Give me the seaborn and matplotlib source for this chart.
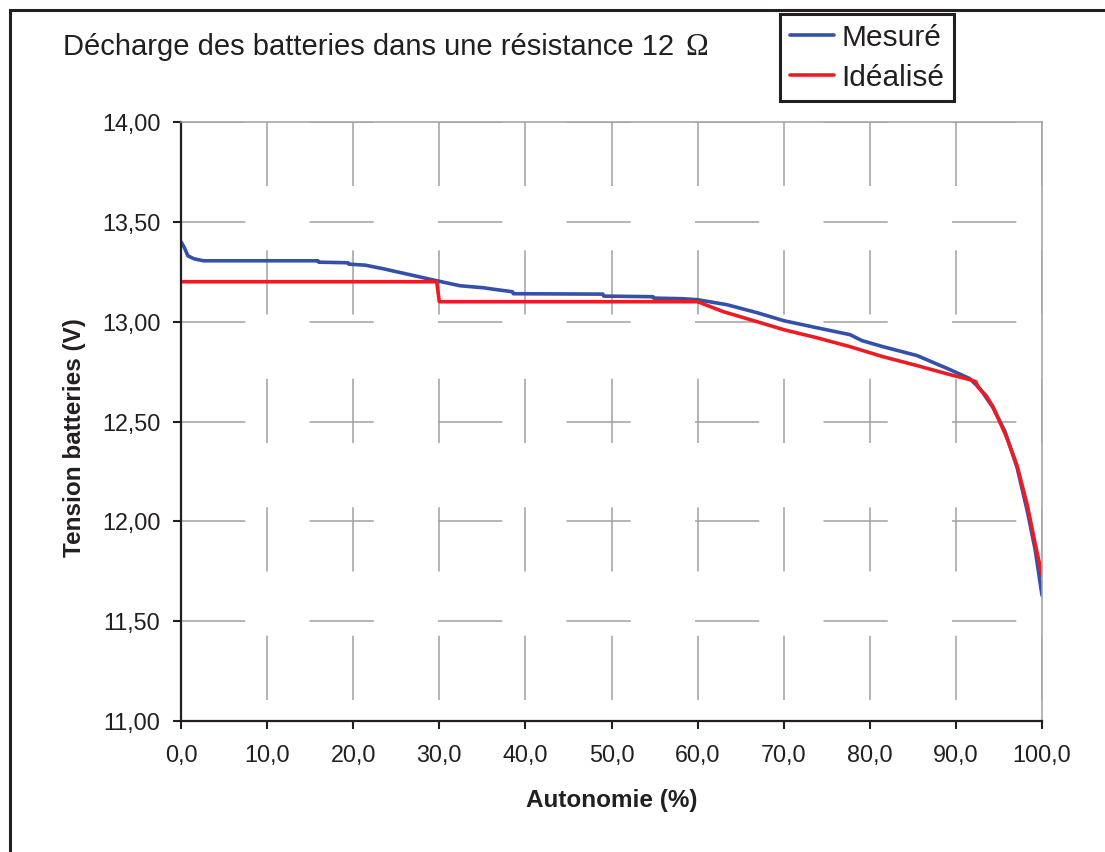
import matplotlib
matplotlib.use("Agg")
import matplotlib.pyplot as plt
import pandas as pd
import seaborn as sns
from matplotlib.patches import Rectangle
from matplotlib.lines import Line2D

# ---- data ----
autonomie_mesure = [0, 0.4, 0.8, 1.5, 2.6, 10, 15.9, 16.0, 19.4, 19.5, 21.4, 23.5, 26.6,
                    29.7, 32.4, 35.1, 36.7, 38.5, 38.6, 49.0, 49.1, 54.8, 54.9, 58.2, 60.0,
                    63.4, 66.9, 70.0, 73.8, 77.7, 79.1, 81.5, 85.5, 89.3, 91.6, 92.8, 94.3,
                    95.7, 97.1, 98.3, 99.2, 100.0]
tension_mesure = [13.40, 13.37, 13.33, 13.315, 13.305, 13.305, 13.305, 13.298, 13.295, 13.288,
                  13.283, 13.265, 13.235, 13.205, 13.18, 13.17, 13.16, 13.15, 13.14, 13.138,
                  13.128, 13.125, 13.118, 13.115, 13.11, 13.085, 13.045, 13.005, 12.97, 12.935,
                  12.905, 12.875, 12.83, 12.76, 12.715, 12.665, 12.57, 12.45, 12.27, 12.05,
                  11.86, 11.63]

autonomie_ideal = [0, 29.7, 30.0, 60.0, 63.0, 66.9, 70.0, 73.8, 77.7, 81.5, 85.5, 89.3, 91.6,
                   92.3, 92.6, 93.5, 94.3, 95.9, 97.1, 98.3, 99.2, 100.0]
tension_ideal = [13.20, 13.20, 13.10, 13.10, 13.05, 13.00, 12.96, 12.92, 12.875, 12.825, 12.78,
                 12.735, 12.71, 12.70, 12.67, 12.63, 12.575, 12.42, 12.28, 12.08, 11.89, 11.73]

series_names = ["Mesuré", "Idéalisé"]
series_colors = ["#3450A8", "#EC1C24"]

x_ticks = [0, 10, 20, 30, 40, 50, 60, 70, 80, 90, 100]
x_tick_labels = ["0,0", "10,0", "20,0", "30,0", "40,0", "50,0", "60,0", "70,0", "80,0", "90,0", "100,0"]
y_ticks = [11.0, 11.5, 12.0, 12.5, 13.0, 13.5, 14.0]
y_tick_labels = ["11,00", "11,50", "12,00", "12,50", "13,00", "13,50", "14,00"]

title_text = "Décharge des batteries dans une résistance 12"
title_symbol = "Ω"
x_label = "Autonomie (%)"
y_label = "Tension batteries (V)"

# ---- styling ----
sns.set_theme(style="white")
plt.rcParams["font.family"] = ["Liberation Sans", "DejaVu Sans"]
plt.rcParams["lines.scale_dashes"] = False
TXT = "#231f20"

W, H = 1105, 852
fig = plt.figure(figsize=(W / 100, H / 100), dpi=100)
fig.patch.set_facecolor("white")
ax = fig.add_axes([181 / W, 1 - 721 / H, (1042 - 181) / W, (721 - 122) / H])
ax.set_facecolor("white")

df = pd.concat([
    pd.DataFrame({"Autonomie": autonomie_mesure, "Tension": tension_mesure, "Série": series_names[0]}),
    pd.DataFrame({"Autonomie": autonomie_ideal, "Tension": tension_ideal, "Série": series_names[1]}),
], ignore_index=True)

sns.lineplot(data=df, x="Autonomie", y="Tension", hue="Série", hue_order=series_names,
             palette=dict(zip(series_names, series_colors)), sort=False, estimator=None,
             linewidth=2.6, legend=False, ax=ax)

ax.set_xlim(0, 100)
ax.set_ylim(11, 14)
ax.set_xticks(x_ticks)
ax.set_xticklabels(x_tick_labels)
ax.set_yticks(y_ticks)
ax.set_yticklabels(y_tick_labels)
ax.set_xlabel("")
ax.set_ylabel("")

ax.tick_params(axis="both", which="major", direction="out", length=5.8, width=1.5,
               color=TXT, labelcolor=TXT, labelsize=16.8, bottom=True, left=True)
ax.tick_params(axis="y", pad=9)
ax.tick_params(axis="x", pad=11)

dash = 46.26
ax.set_axisbelow(True)
ax.xaxis.grid(True, color="#A0A0A0", linewidth=1.1, linestyle=(77.4, (dash, dash)))
ax.yaxis.grid(True, color="#A0A0A0", linewidth=1.1, linestyle=(0, (dash, dash)))

for s in ["left", "bottom"]:
    ax.spines[s].set_color(TXT)
    ax.spines[s].set_linewidth(1.6)
for s in ["top", "right"]:
    ax.spines[s].set_color("#A0A0A0")
    ax.spines[s].set_linewidth(1.1)

# title and axis labels
fig.text(63 / W, 1 - 55 / H, title_text, fontsize=21, color=TXT, ha="left", va="baseline")
fig.text(685 / W, 1 - 55 / H, title_symbol, fontsize=22, color=TXT, ha="left", va="baseline",
         family=["Liberation Serif", "DejaVu Serif"])
fig.text(612 / W, 1 - 807 / H, x_label, fontsize=17.5, fontweight="bold", color=TXT,
         ha="center", va="baseline")
fig.text(74 / W, 1 - 438 / H, y_label, fontsize=17.5, fontweight="bold", color=TXT,
         ha="center", va="center", rotation=90)

# legend
handles = [Line2D([0], [0], color=c, lw=2.6) for c in series_colors]
leg = fig.legend(handles, series_names, loc="upper left", bbox_to_anchor=(780 / W, 1 - 14 / H),
                 frameon=True, fancybox=False, edgecolor=TXT, framealpha=1, fontsize=21.5,
                 handlelength=1.5, handletextpad=0.23, borderpad=0.32, labelspacing=0.41,
                 borderaxespad=0)
leg.get_frame().set_linewidth(2.2)
for t in leg.get_texts():
    t.set_color(TXT)

# outer frame (right/bottom edges beyond the image)
fig.add_artist(Rectangle((9.5 / W, -0.05), 1.2, 1 - 9.5 / H + 0.05, transform=fig.transFigure,
                         fill=False, lw=2.2, ec=TXT))

fig.savefig("out.png", dpi=100, facecolor="white")
